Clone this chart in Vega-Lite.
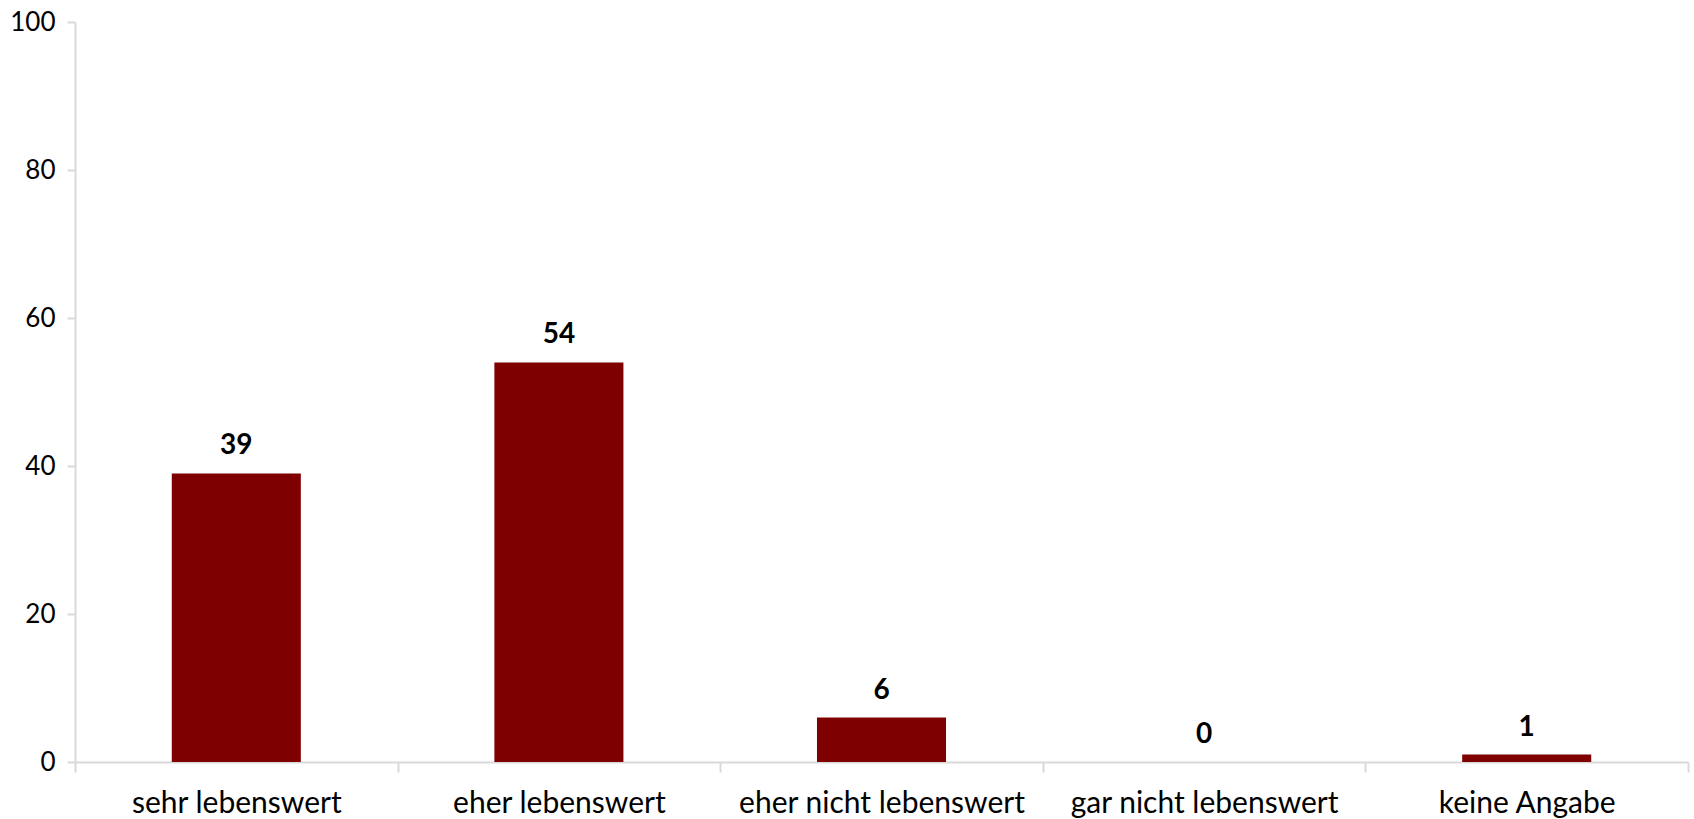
{
  "$schema": "https://vega.github.io/schema/vega-lite/v6.json",
  "autosize": "none",
  "width": 1613,
  "height": 740,
  "padding": {"left": 75, "top": 22, "right": 6, "bottom": 57},
  "background": "white",
  "config": {"view": {"stroke": null}, "font": "Lato"},
  "data": {
    "values": [
      {"kategorie": "sehr lebenswert", "wert": 39},
      {"kategorie": "eher lebenswert", "wert": 54},
      {"kategorie": "eher nicht lebenswert", "wert": 6},
      {"kategorie": "gar nicht lebenswert", "wert": 0},
      {"kategorie": "keine Angabe", "wert": 1}
    ]
  },
  "encoding": {
    "x": {
      "field": "kategorie",
      "type": "nominal",
      "sort": null,
      "scale": {"paddingInner": 0, "paddingOuter": 0},
      "axis": {
        "title": null,
        "labelAngle": 0,
        "labelFontSize": 30,
        "labelLimit": 0,
        "labelColor": "#000000",
        "labelPadding": 16,
        "domainColor": "#d9d9d9",
        "domainWidth": 2,
        "tickColor": "#d9d9d9",
        "tickWidth": 2,
        "tickSize": 10,
        "tickBand": "extent",
        "grid": false
      }
    },
    "y": {
      "field": "wert",
      "type": "quantitative",
      "scale": {"domain": [0, 100], "nice": false},
      "axis": {
        "title": null,
        "values": [0, 20, 40, 60, 80, 100],
        "labelFontSize": 26,
        "labelColor": "#000000",
        "labelPadding": 12,
        "domainColor": "#d9d9d9",
        "domainWidth": 2,
        "tickColor": "#d9d9d9",
        "tickWidth": 2,
        "tickSize": 8,
        "grid": false
      }
    }
  },
  "layer": [
    {"mark": {"type": "bar", "color": "#7f0000", "width": {"band": 0.4}}},
    {
      "mark": {"type": "text", "baseline": "bottom", "dy": -13, "fontSize": 28, "fontWeight": "bold", "color": "#000000"},
      "encoding": {"text": {"field": "wert", "type": "quantitative"}}
    }
  ]
}
